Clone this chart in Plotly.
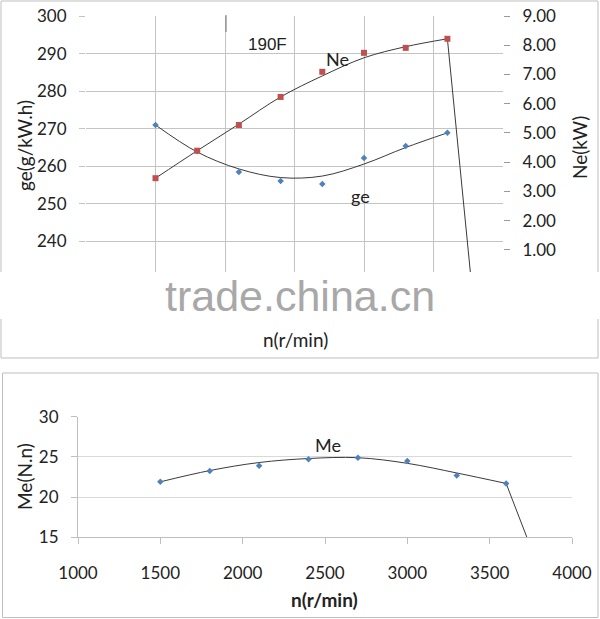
import plotly.graph_objects as go

W, H = 600, 619

# ---- data ----
rpm = [1500, 1800, 2100, 2400, 2700, 3000, 3300, 3600]

ge_points = [271.0, 264.0, 258.5, 256.1, 255.3, 262.2, 265.4, 268.9]
ge_curve = [271.0, 263.8, 259.3, 257.0, 257.4, 260.6, 265.0, 268.9]

ne_points = [3.45, 4.39, 5.27, 6.23, 7.09, 7.74, 7.91, 8.22]
ne_curve = [3.45, 4.39, 5.30, 6.23, 6.95, 7.57, 7.95, 8.22]
ne_drop_rpm = [3600, 3770]
ne_drop_val = [8.22, 0.0]

me_points = [21.9, 23.25, 23.9, 24.7, 24.9, 24.5, 22.7, 21.7]
me_curve = [21.9, 23.3, 24.3, 24.8, 24.9, 24.2, 23.0, 21.7]
me_drop_rpm = [3600, 3726]
me_drop_val = [21.7, 15.0]

ge_ticks = [230, 240, 250, 260, 270, 280, 290, 300]
ne_ticks = [0, 1, 2, 3, 4, 5, 6, 7, 8, 9]
rpm_ticks = [1000, 1500, 2000, 2500, 3000, 3500, 4000]
me_ticks = [15, 20, 25, 30]


def px(x):
    return x / W


def py(y):
    return 1 - y / H


FONT = "Lato"
LINE = "#3a3a3a"
RED = "#c0504d"
BLUE = "#4f81bd"
GRID = "#c4c4c4"
GRID2 = "#d9d9d9"

fig = go.Figure()

# top chart
fig.add_trace(go.Scatter(x=rpm, y=ge_curve, mode="lines", line=dict(color=LINE, width=1, shape="spline"),
                         xaxis="x", yaxis="y", hoverinfo="skip"))
fig.add_trace(go.Scatter(x=rpm, y=ge_points, mode="markers",
                         marker=dict(symbol="diamond", size=5, color=BLUE), xaxis="x", yaxis="y"))
fig.add_trace(go.Scatter(x=rpm, y=ne_curve, mode="lines", line=dict(color=LINE, width=1, shape="spline"),
                         xaxis="x", yaxis="y2", hoverinfo="skip"))
fig.add_trace(go.Scatter(x=ne_drop_rpm, y=ne_drop_val, mode="lines", line=dict(color=LINE, width=1),
                         xaxis="x", yaxis="y2", hoverinfo="skip"))
fig.add_trace(go.Scatter(x=rpm, y=ne_points, mode="markers",
                         marker=dict(symbol="square", size=6, color=RED), xaxis="x", yaxis="y2"))

# bottom chart
fig.add_trace(go.Scatter(x=rpm, y=me_curve, mode="lines", line=dict(color=LINE, width=1, shape="spline"),
                         xaxis="x2", yaxis="y3", hoverinfo="skip"))
fig.add_trace(go.Scatter(x=me_drop_rpm, y=me_drop_val, mode="lines", line=dict(color=LINE, width=1),
                         xaxis="x2", yaxis="y3", hoverinfo="skip"))
fig.add_trace(go.Scatter(x=rpm, y=me_points, mode="markers",
                         marker=dict(symbol="diamond", size=5, color=BLUE), xaxis="x2", yaxis="y3"))

tickfont = dict(family=FONT, size=17, color="#222")

fig.update_layout(
    template="none",
    width=W, height=H,
    margin=dict(l=0, r=0, t=0, b=0, pad=0, autoexpand=False),
    paper_bgcolor="white", plot_bgcolor="white",
    showlegend=False,
    xaxis=dict(domain=[px(86), px(503)], anchor="y", range=[1000, 4000], tickvals=rpm_ticks,
               showgrid=True, gridcolor=GRID, gridwidth=1, zeroline=False, showticklabels=False,
               showline=False, ticks="", automargin=False),
    yaxis=dict(domain=[py(279), py(16)], anchor="x", range=[230, 300], tickvals=ge_ticks,
               showgrid=True, gridcolor=GRID, zeroline=False, ticks="outside", ticklen=6,
               tickcolor=GRID, tickfont=tickfont, ticklabelstandoff=9, showline=False,
               automargin=False),
    yaxis2=dict(overlaying="y", anchor="x", side="right", range=[0, 9], tickvals=ne_ticks,
                tickformat=".2f", showgrid=False, zeroline=False, ticks="outside", ticklen=6,
                tickcolor="#999", tickfont=tickfont, ticklabelstandoff=9, showline=False,
                automargin=False),
    xaxis2=dict(domain=[px(78), px(572)], anchor="y3", range=[1000, 4000], tickvals=rpm_ticks,
                showgrid=False, zeroline=False, showline=True, linecolor="#bfbfbf",
                ticks="outside", ticklen=6, tickcolor="#bfbfbf", tickfont=tickfont,
                ticklabelstandoff=14, automargin=False),
    yaxis3=dict(domain=[py(537.3), py(416.7)], anchor="x2", range=[15, 30], tickvals=me_ticks,
                showgrid=True, gridcolor=GRID2, zeroline=False, showline=True, linecolor="#bfbfbf",
                ticks="outside", ticklen=6, tickcolor="#bfbfbf", tickfont=tickfont,
                ticklabelstandoff=9, automargin=False),
)

shapes = [
    dict(type="rect", xref="paper", yref="paper", x0=px(1), x1=px(598), y0=py(358), y1=py(1),
         line=dict(color="#bfbfbf", width=1), fillcolor="rgba(0,0,0,0)", layer="above"),
    dict(type="rect", xref="paper", yref="paper", x0=px(2.5), x1=px(598), y0=py(617.5), y1=py(373),
         line=dict(color="#bfbfbf", width=1), fillcolor="rgba(0,0,0,0)", layer="above"),
    dict(type="rect", xref="paper", yref="paper", x0=0, x1=1, y0=py(319), y1=py(272),
         line=dict(width=0), fillcolor="white", layer="above"),
    dict(type="line", xref="paper", yref="paper", x0=px(226), x1=px(226), y0=py(32), y1=py(15),
         line=dict(color="#707070", width=1), layer="above"),
]
fig.update_layout(shapes=shapes)

def ann(text, x, y, size=17, family=FONT, angle=0, color="#222", bold=False):
    if bold:
        text = "<b>" + text + "</b>"
    return dict(text=text, xref="paper", yref="paper", x=px(x), y=py(y), showarrow=False,
                xanchor="center", yanchor="middle", textangle=angle,
                font=dict(family=family, size=size, color=color))

annotations = [
    ann("190F", 267, 44, size=17, family="Liberation Sans"),
    ann("Ne", 337, 59, size=18),
    ann("ge", 360, 196, size=18),
    ann("Me", 328, 445, size=18),
    ann("ge(g/kW.h)", 24, 146, size=19, angle=-90),
    ann("Ne(kW)", 579, 148, size=19, angle=-90),
    ann("n(r/min)", 295, 340, size=19),
    ann("Me(N.n)", 24, 477, size=19, angle=-90),
    ann("n(r/min)", 324, 599, size=19, bold=True),
    ann("trade.china.cn", 300, 296, size=43, family="Liberation Sans", color="#a8a8a8"),
]
fig.update_layout(annotations=annotations)

fig.write_html("out.html", config={"displayModeBar": False, "staticPlot": True},
               post_script="document.body.style.margin='0';document.body.style.overflow='hidden';")
